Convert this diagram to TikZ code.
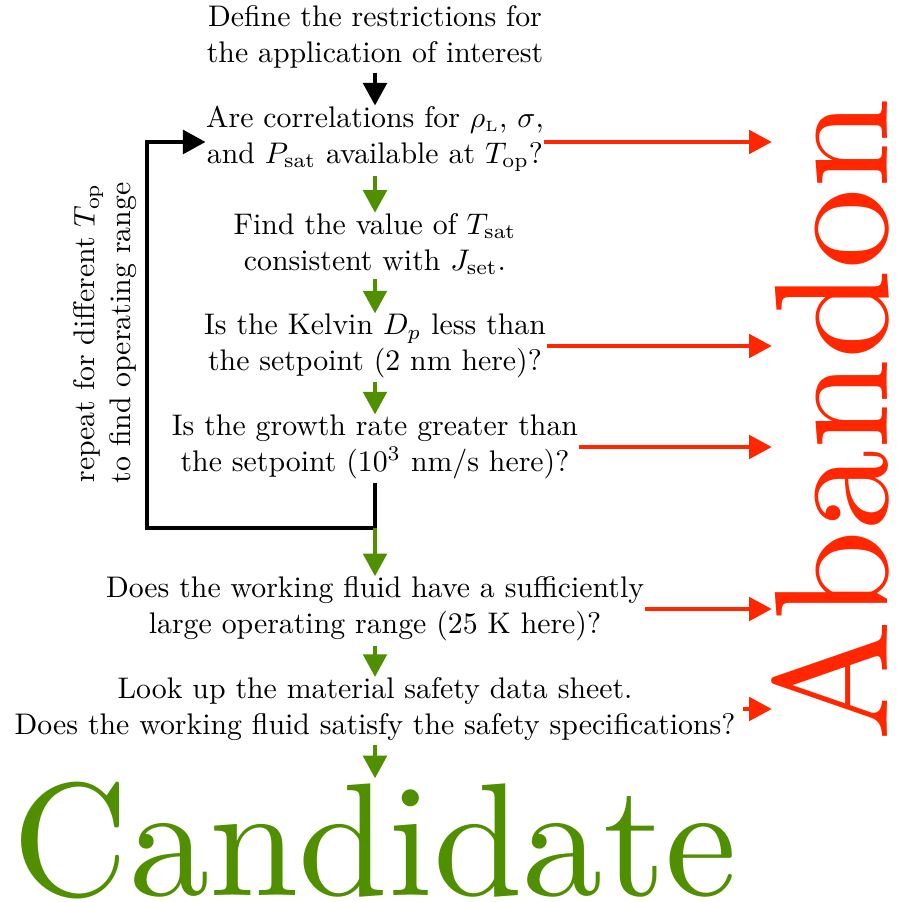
\documentclass[tikz,border=0pt]{standalone}
\usetikzlibrary{arrows.meta}
\definecolor{gogreen}{HTML}{4F8F00}
\definecolor{stopred}{HTML}{FF2600}
\begin{document}
\begin{tikzpicture}[x=0.3356pt,y=-0.3356pt,
  stage/.style={align=center,inner sep=0pt},
  tip/.style={-{Triangle[length=7.6pt,width=7.8pt]}},
  blackflow/.style={tip,line width=1.6pt,draw=black},
  greenflow/.style={tip,line width=1.5pt,draw=gogreen},
  redflow/.style={tip,line width=1.35pt,draw=stopred,shorten >=-1.3pt},
  loopline/.style={line width=1.6pt,draw=black,line join=miter}]
\useasboundingbox (0,0) rectangle (898,902);

% stages of the screening procedure
\node[stage] (define) at (375,37) {Define the restrictions for\\the application of interest};
\node[stage] (corr) at (375,139) {Are correlations for $\rho_{\scriptscriptstyle\mathrm{L}}$, $\sigma$,\\and $P_\mathrm{sat}$ available at $T_\mathrm{op}$?};
\node[stage] (tsat) at (375,244) {Find the value of $T_\mathrm{sat}$\\consistent with $J_\mathrm{set}$.};
\node[stage] (kelvin) at (375,346) {Is the Kelvin $D_p$ less than\\the setpoint (2 nm here)?};
\node[stage] (growth) at (375,447) {Is the growth rate greater than\\the setpoint ($10^3$ nm/s here)?};
\node[stage] (range) at (375,609) {Does the working fluid have a sufficiently\\large operating range (25 K here)?};
\node[stage] (safety) at (375,709) {Look up the material safety data sheet.\\Does the working fluid satisfy the safety specifications?};

% outcomes
\node[stage,text=gogreen,scale=5.4,anchor=base] (cand) at (375,895) {Candidate};
\node[stage,text=stopred,scale=5.43,rotate=90,anchor=base] (abandon) at (887,420) {Abandon};

% loop label
\node[stage,rotate=90] (repeat) at (105,333) {repeat for different $T_\mathrm{op}$\\to find operating range};

% main flow
\draw[blackflow] ([yshift=-1.3pt]define.south) -- (corr.north);
\draw[greenflow] ([yshift=-1.3pt]corr.south) -- (tsat.north);
\draw[greenflow] ([yshift=-1.3pt]tsat.south) -- (kelvin.north);
\draw[greenflow] ([yshift=-1.3pt]kelvin.south) -- (growth.north);

% loop back for another operating temperature
\coordinate (junction) at (375,528);
\coordinate (loopcorner) at (147,528);
\draw[loopline,tip] ([yshift=-1pt]growth.south) -- (junction) -- (loopcorner) |- ([yshift=-1pt]corr.west);

\draw[greenflow] (junction) -- (range.north);
\draw[greenflow] ([yshift=-1.3pt]range.south) -- (safety.north);
\draw[greenflow] ([yshift=-1.3pt]safety.south) -- (cand.north);

% rejections
\draw[redflow] ([yshift=-1pt]corr.east) -- ([yshift=-1pt]corr.east -| abandon.north);
\draw[redflow] (kelvin.east) -- (kelvin.east -| abandon.north);
\draw[redflow] (growth.east) -- (growth.east -| abandon.north);
\draw[redflow] (range.east) -- (range.east -| abandon.north);
\draw[redflow] ([xshift=2.5pt]safety.east) -- (safety.east -| abandon.north);
\end{tikzpicture}
\end{document}
